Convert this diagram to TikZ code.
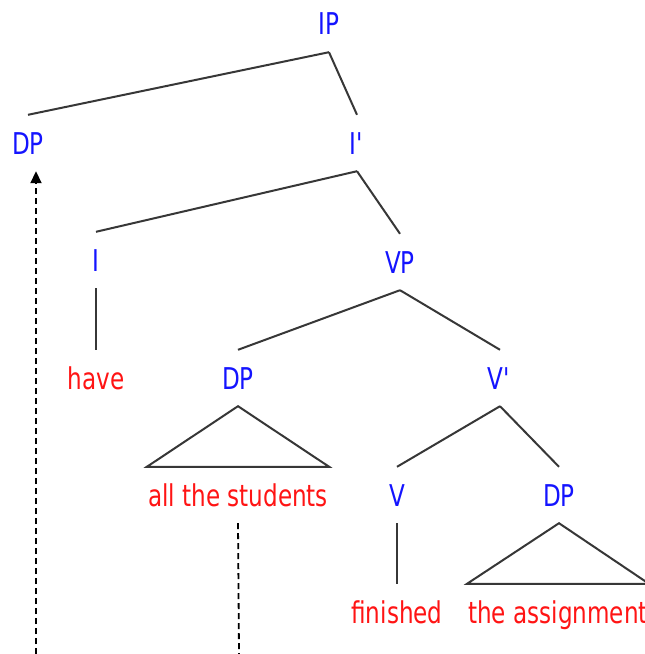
\documentclass[tikz,border=0pt]{standalone}
\usepackage{fontspec}
\setmainfont[FakeStretch=0.77]{DejaVu Sans}
\usepackage{tikz}
\usetikzlibrary{arrows.meta,positioning,calc}
\definecolor{CatBlue}{RGB}{20,20,255}
\definecolor{WordRed}{RGB}{255,20,20}
\definecolor{BranchGray}{RGB}{55,55,55}

\begin{document}
\begin{tikzpicture}[
  x=1bp,y=-1bp,
  lbl/.style={inner xsep=1bp,inner ysep=17bp,text height=22bp,text depth=0bp,
    font=\fontsize{30bp}{36bp}\selectfont},
  cat/.style={lbl,text=CatBlue},
  word/.style={lbl,text=WordRed},
  branch/.style={draw=BranchGray,line width=2bp},
  move/.style={draw=black,line width=1.8bp,dash pattern=on 6bp off 4bp}
]
\useasboundingbox (0,0) rectangle (645,654);
% categories
\node[cat] (ip) at (329,24) {IP};
\node[cat] (spec) at (28,143) {DP};
\node[cat] (ibar) at (357,143) {I\textquotesingle};
\node[cat] (infl) at (96,260) {I};
\node[cat] (vp) at (400,262) {VP};
\node[cat] (subj) at (238,378) {DP};
\node[cat] (vbar) at (500,378) {V\textquotesingle};
\node[cat] (verb) at (397,495) {V};
\node[cat] (obj) at (559,495) {DP};
% words
\node[word] (have) at (96,378) {have};
\node[word] (students) at (238,495) {all the students};
\node[word] (fin) at (397,612) {finished};
\node[word] (assign) at (558,612) {the assignment};
\coordinate (t1) at (36,654);
\coordinate (t2) at (239,654);
% branches
\draw[branch] (ip.south) -- (spec.north);
\draw[branch] (ip.south) -- (ibar.north);
\draw[branch] (ibar.south) -- (infl.north);
\draw[branch] (ibar.south) -- (vp.north);
\draw[branch] (infl.south) -- (have.north);
\draw[branch] (vp.south) -- (subj.north);
\draw[branch] (vp.south) -- (vbar.north);
\draw[branch] (vbar.south) -- (verb.north);
\draw[branch] (vbar.south) -- (obj.north);
\draw[branch] (verb.south) -- (fin.north);
\draw[branch] (subj.south) -- (students.north east) -- (students.north west) -- cycle;
\draw[branch] (obj.south) -- (assign.north east) -- (assign.north west) -- cycle;
% movement
\draw[move,-{Triangle[length=12bp,width=11bp]}] (t1) -- (t1 |- spec.south);
\draw[move] (students.south) -- (t2);
\end{tikzpicture}
\end{document}
